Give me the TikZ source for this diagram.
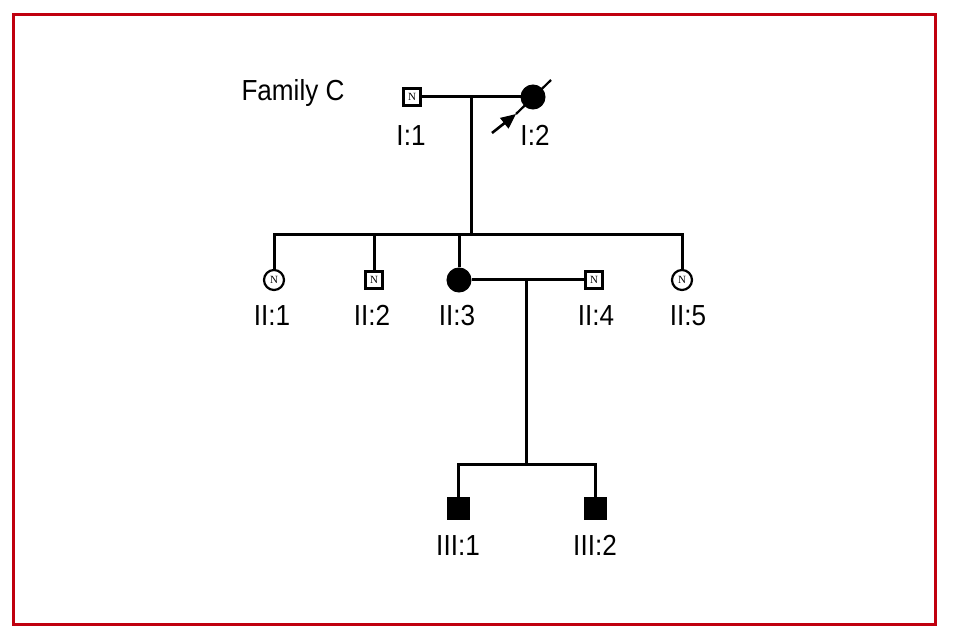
\documentclass[tikz,border=0pt]{standalone}
\usepackage{fontspec}
\setmainfont{Liberation Sans}[FakeStretch=0.9]
\newfontfamily\markfont{Liberation Serif}
\usetikzlibrary{arrows.meta,positioning}
\definecolor{frame}{HTML}{C0000F}

\begin{document}
\begin{tikzpicture}[x=1pt,y=-1pt,line width=3pt,
  male/.style={draw,line width=3pt,minimum size=17pt,inner sep=0pt,font=\markfont\fontsize{11}{11}\selectfont},
  female/.style={circle,draw,line width=2.2pt,minimum size=20pt,inner sep=0pt,font=\markfont\fontsize{11}{11}\selectfont},
  aff/.style={fill=black,line width=1pt},
  lab/.style={anchor=base,inner sep=0pt,font=\fontsize{29}{31}\selectfont}]
\useasboundingbox (0,0) rectangle (953,636);
\draw[frame,line width=3pt] (13.5,14.5) rectangle (935.5,624.5);
% generation I
\node[lab] (fam) at (293,101) {Family C};
\node[male] (i1) at (412,97) {N};
\node[female,aff,minimum size=24pt] (i2) at (533,97) {};
\node[lab] (li1) at (411,146) {I:1};
\node[lab] (li2) at (535,146) {I:2};
\draw (i1) -- (i2);
\coordinate (d1) at (516,114);
\coordinate (d2) at (551,80);
\coordinate (pr) at (492,133);
\draw[line width=2.2pt] (d1) -- (d2);
\draw[line width=2.6pt,-{Triangle[length=15pt,width=13pt]}] (pr) -- (d1);
% generation II
\node[female] (ii1) at (274,280) {N};
\node[male] (ii2) at (374,280) {N};
\node[female,aff,minimum size=24pt] (ii3) at (459,280) {};
\node[male] (ii4) at (594,280) {N};
\node[female] (ii5) at (682,280) {N};
\foreach \n/\x/\t in {ii1/272/II:1,ii2/372/II:2,ii3/457/II:3,ii4/596/II:4,ii5/688/II:5}
  \node[lab] (l\n) at (\x,326) {\t};
\coordinate (m1) at (471,97);
\coordinate (s2) at (471,235);
\draw (m1) -- (s2);
\draw (ii1.north) |- (s2) -| (ii5.north);
\draw (ii2.north) -- (ii2 |- s2);
\draw (ii3.north) -- (ii3 |- s2);
\draw (ii3.east) -- (ii4.west);
% generation III
\coordinate (m2) at (526,280);
\coordinate (s3) at (526,464);
\node[male,aff,minimum size=22pt] (iii1) at (458,508) {};
\node[male,aff,minimum size=22pt] (iii2) at (595,508) {};
\node[lab] (liii1) at (458,555) {III:1};
\node[lab] (liii2) at (595,555) {III:2};
\draw (m2) -- (s3);
\draw (iii1.north) |- (s3) -| (iii2.north);
\end{tikzpicture}
\end{document}
